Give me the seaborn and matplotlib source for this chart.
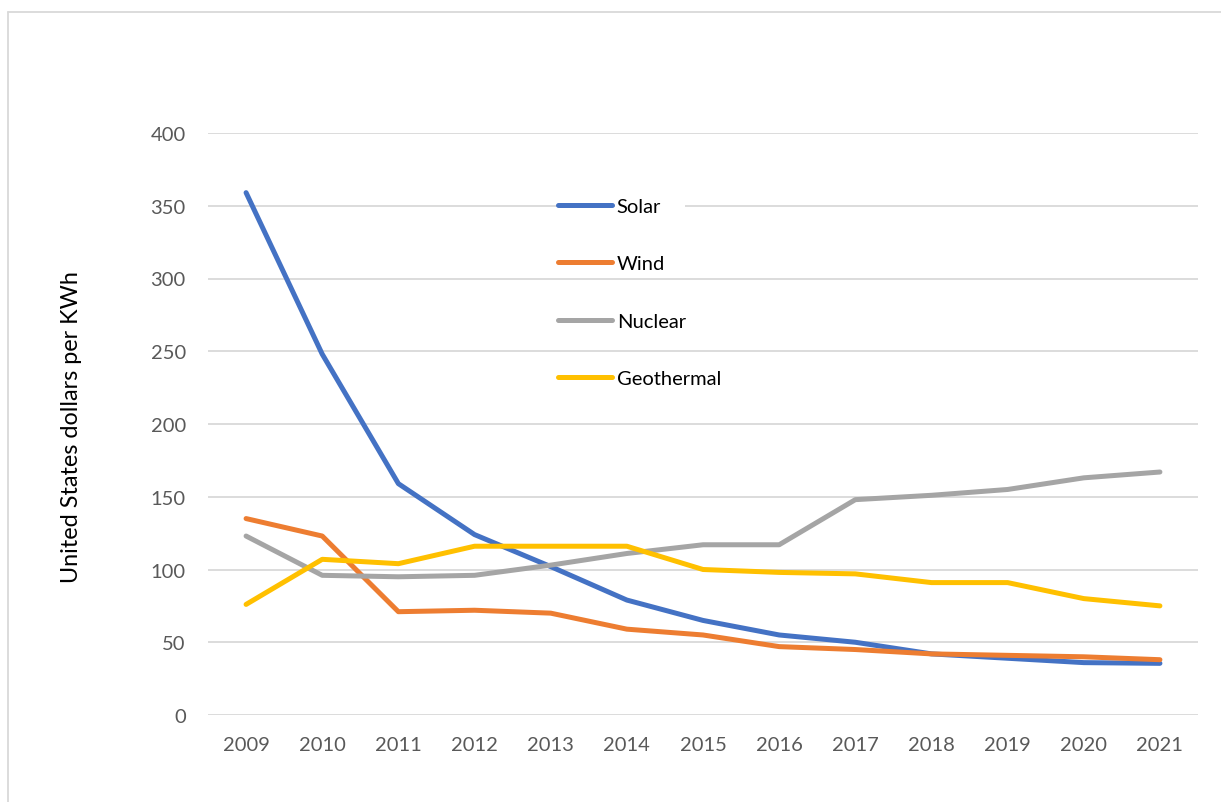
import matplotlib
matplotlib.use("Agg")
import matplotlib.pyplot as plt
import seaborn as sns
import pandas as pd
from matplotlib.lines import Line2D
from matplotlib.patches import Rectangle

years = ["2009", "2010", "2011", "2012", "2013", "2014", "2015",
         "2016", "2017", "2018", "2019", "2020", "2021"]
solar = [359, 248, 159, 124, 102, 79, 65, 55, 50, 42, 39, 36, 35.5]
wind = [135, 123, 71, 72, 70, 59, 55, 47, 45, 42, 41, 40, 38]
nuclear = [123, 96, 95, 96, 103, 111, 117, 117, 148, 151, 155, 163, 167]
geothermal = [76, 107, 104, 116, 116, 116, 100, 98, 97, 91, 91, 80, 75]
series_names = ["Solar", "Wind", "Nuclear", "Geothermal"]
colors = ["#4472C4", "#ED7D31", "#A5A5A5", "#FFC000"]
y_ticks = [0, 50, 100, 150, 200, 250, 300, 350, 400]

rows = []
for name, vals in zip(series_names, [solar, wind, nuclear, geothermal]):
    for i, v in enumerate(vals):
        rows.append({"idx": i, "value": v, "series": name})
df = pd.DataFrame(rows)

sns.set_theme(style="white")
plt.rcParams["font.family"] = ["Lato", "DejaVu Sans"]

W, H = 1221, 803
fig = plt.figure(figsize=(W / 100, H / 100), dpi=100)
ax = fig.add_axes([208 / W, 1 - 716 / H, 990 / W, 582 / H])

sns.lineplot(data=df, x="idx", y="value", hue="series", hue_order=series_names,
             palette=colors, linewidth=3.6, ax=ax, legend=False, zorder=3)
for ln in ax.lines:
    ln.set_solid_capstyle("round")
    ln.set_solid_joinstyle("round")

ax.set_xlim(-0.5, len(years) - 0.5)
ax.set_ylim(0, 400)
ax.set_xticks(range(len(years)))
ax.set_xticklabels(years)
ax.set_yticks(y_ticks)
ax.set_yticklabels([str(t) for t in y_ticks])
ax.grid(axis="y", color="#D9D9D9", linewidth=1.3, zorder=0)
ax.grid(axis="x", visible=False)
for s in ax.spines.values():
    s.set_visible(False)
ax.tick_params(axis="both", length=0, labelsize=14.5, labelcolor="#595959")
ax.tick_params(axis="y", pad=16)
ax.tick_params(axis="x", pad=15)
ax.set_xlabel("")
ax.set_ylabel("United States dollars per KWh", fontsize=16.8, color="#000000")
ax.yaxis.set_label_coords(-0.127, 0.497)

# white patch behind the first legend entry (as in the reference)
ax.add_patch(Rectangle((615 / W, 1 - 213 / H), 70 / W, 12 / H,
                       transform=fig.transFigure, facecolor="white",
                       edgecolor="none", zorder=2))

handles = [Line2D([0], [0], color=c, linewidth=3.6, solid_capstyle="round")
           for c in colors]
leg = ax.legend(handles, series_names, loc="upper left",
                bbox_to_anchor=(558 / W, 1 - 199 / H),
                bbox_transform=fig.transFigure, frameon=False,
                fontsize=14.5, handlelength=2.7, handletextpad=0.22,
                labelspacing=2.0, borderpad=0, borderaxespad=0)
leg.set_zorder(6)
for t in leg.get_texts():
    t.set_color("#000000")

# outer chart-area border
fig.add_artist(Line2D([8 / W, 8 / W], [0, 1 - 13 / H], transform=fig.transFigure,
                      color="#D9D9D9", linewidth=1.3))
fig.add_artist(Line2D([8 / W, 1], [1 - 13 / H, 1 - 13 / H], transform=fig.transFigure,
                      color="#D9D9D9", linewidth=1.3))

fig.savefig("out.png", dpi=100, facecolor="white")
